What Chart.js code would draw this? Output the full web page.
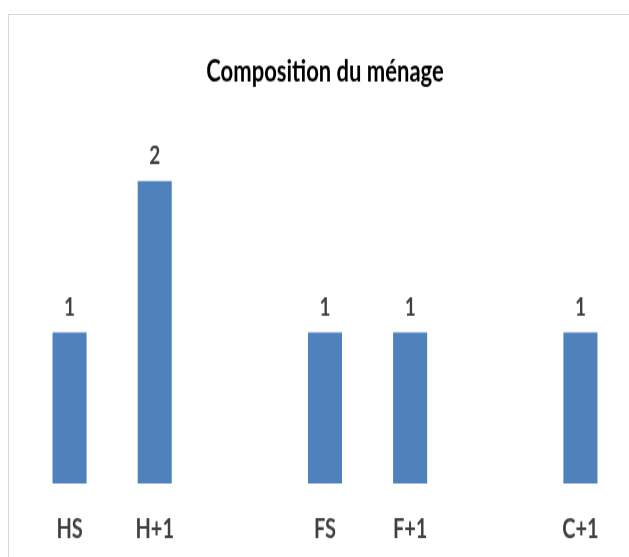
<!DOCTYPE html>
<html>
<head>
<meta charset="utf-8">
<script src="https://cdn.jsdelivr.net/npm/chart.js@4/dist/chart.umd.min.js"></script>
<style>
    body { margin: 0; background: #fff; }
    #box {
        position: absolute; left: 8px; top: 14px;
        width: 640px; height: 560px;
        border-top: 1px solid #d9d9d9; border-left: 1px solid #d9d9d9;
    }
    /* the original picture is stretched vertically, so is the canvas */
    #myChart { position: absolute; left: 0; top: 0; }
</style>
</head>
<body>
<div id="box"><canvas id="myChart" width="621" height="408" style="width:621px;height:543px"></canvas></div>
<script>
// household composition, empty slots keep the gaps between groups
var categories = ['HS', 'H+1', '', 'FS', 'F+1', '', 'C+1'];
var counts = [1, 2, null, 1, 1, null, 1];

var labelFont = 'Lato, "Open Sans", sans-serif';

// writes the value above each bar
var barValues = {
    id: 'barValues',
    afterDatasetsDraw: function(chart) {
        var ctx = chart.ctx;
        var meta = chart.getDatasetMeta(0);
        ctx.save();
        ctx.fillStyle = '#404040';
        ctx.font = 'bold 19px ' + labelFont;
        ctx.textAlign = 'center';
        ctx.textBaseline = 'middle';
        for (var i = 0; i < counts.length; i++) {
            if (counts[i] === null) continue;
            var bar = meta.data[i];
            ctx.fillText(String(counts[i]), bar.x, bar.y - 19);
        }
        ctx.restore();
    }
};

var ctx = document.getElementById('myChart').getContext('2d');
var myChart = new Chart(ctx, {
    type: 'bar',
    data: {
        labels: categories,
        datasets: [{
            data: counts,
            backgroundColor: '#4F81BD',
            categoryPercentage: 0.8,
            barPercentage: 0.5
        }]
    },
    options: {
        responsive: false,
        animation: false,
        layout: { padding: { left: 18, right: 7, top: 0, bottom: -14 } },
        plugins: {
            legend: { display: false },
            tooltip: { enabled: false },
            title: {
                display: true,
                text: 'Composition du ménage',
                color: '#000',
                font: { family: labelFont, size: 22, weight: 'bold' },
                padding: { top: 30, bottom: 23 }
            }
        },
        scales: {
            x: {
                grid: { display: false, drawTicks: false },
                border: { display: false },
                ticks: {
                    color: '#404040',
                    padding: 23,
                    font: { family: labelFont, size: 20, weight: 'bold' }
                }
            },
            y: {
                display: false,
                min: 0,
                max: 2.4
            }
        }
    },
    plugins: [barValues]
});
</script>
</body>
</html>
